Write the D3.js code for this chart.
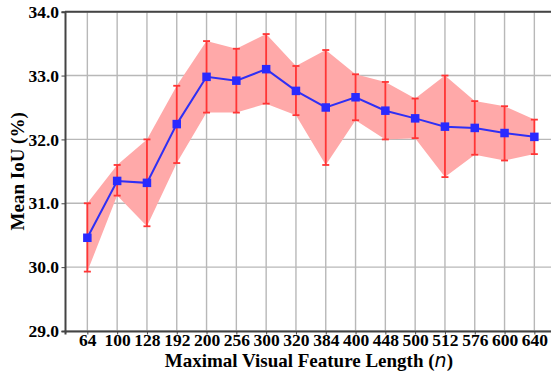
<!DOCTYPE html>
<html>
<head>
<meta charset="utf-8">
<script src="https://cdn.jsdelivr.net/npm/d3@7"></script>
<style>
  body { margin: 0; background: #fff; }
  svg { display: block; }
</style>
</head>
<body>
<div id="chart"></div>
<script>
// data
const lengths = ["64", "100", "128", "192", "200", "256", "300", "320", "384", "400", "448", "500", "512", "576", "600", "640"];
const meanIoU = [30.46, 31.35, 31.32, 32.24, 32.98, 32.92, 33.10, 32.76, 32.50, 32.66, 32.45, 32.33, 32.20, 32.18, 32.10, 32.04];
const upper   = [31.00, 31.60, 32.00, 32.84, 33.54, 33.42, 33.65, 33.15, 33.40, 33.02, 32.90, 32.64, 33.00, 32.60, 32.52, 32.31];
const lower   = [29.93, 31.12, 30.64, 31.63, 32.42, 32.42, 32.56, 32.38, 31.60, 32.30, 32.00, 32.02, 31.41, 31.76, 31.67, 31.77];
const yTicks  = [29, 30, 31, 32, 33, 34];

const serif = "Liberation Serif";

const width = 551, height = 372;
const margin = {top: 11.7, left: 65, bottom: 41};
const step = 29.8;

const svg = d3.select("#chart").append("svg")
    .attr("width", width)
    .attr("height", height);

const data = lengths.map((d, i) => ({len: d, i: i, v: meanIoU[i], hi: upper[i], lo: lower[i]}));

// linear position scale on index so that the frame can be padded like matplotlib
const x = d3.scaleLinear()
    .domain([-0.75, 15.75])
    .range([margin.left, margin.left + 16.5 * step]);

const y = d3.scaleLinear()
    .domain([29, 34])
    .range([height - margin.bottom, margin.top]);

const plotRight = x(15.75);

// grid
svg.append("g")
  .selectAll("line")
  .data(yTicks)
  .join("line")
    .attr("x1", margin.left).attr("x2", plotRight)
    .attr("y1", d => y(d)).attr("y2", d => y(d))
    .attr("stroke", "#b8b8b8").attr("stroke-width", 1.4);

svg.append("g")
  .selectAll("line")
  .data(data)
  .join("line")
    .attr("x1", d => x(d.i)).attr("x2", d => x(d.i))
    .attr("y1", y(29)).attr("y2", y(34))
    .attr("stroke", "#b8b8b8").attr("stroke-width", 1.4);

// shaded band
const band = d3.area()
    .x(d => x(d.i))
    .y0(d => y(d.lo))
    .y1(d => y(d.hi));

svg.append("path")
    .datum(data)
    .attr("d", band)
    .attr("fill", "#ffa9a9");

// error bars
const err = svg.append("g").attr("stroke", "#ff3535").attr("stroke-width", 1.8);
err.selectAll(".bar")
  .data(data)
  .join("line")
    .attr("x1", d => x(d.i)).attr("x2", d => x(d.i))
    .attr("y1", d => y(d.lo)).attr("y2", d => y(d.hi));
err.selectAll(".capTop")
  .data(data)
  .join("line")
    .attr("class", "capTop")
    .attr("x1", d => x(d.i) - 3.5).attr("x2", d => x(d.i) + 3.5)
    .attr("y1", d => y(d.hi)).attr("y2", d => y(d.hi));
err.selectAll(".capBot")
  .data(data)
  .join("line")
    .attr("class", "capBot")
    .attr("x1", d => x(d.i) - 3.5).attr("x2", d => x(d.i) + 3.5)
    .attr("y1", d => y(d.lo)).attr("y2", d => y(d.lo));

// mean line + markers
svg.append("path")
    .datum(data)
    .attr("d", d3.line().x(d => x(d.i)).y(d => y(d.v)))
    .attr("fill", "none")
    .attr("stroke", "#2f2ff5")
    .attr("stroke-width", 2);

const ms = 8.5;
svg.append("g")
  .selectAll("rect")
  .data(data)
  .join("rect")
    .attr("x", d => x(d.i) - ms / 2)
    .attr("y", d => y(d.v) - ms / 2)
    .attr("width", ms).attr("height", ms)
    .attr("fill", "#2a2aff");

// axes
const xAxis = d3.axisBottom(x)
    .tickValues(d3.range(lengths.length))
    .tickFormat(i => lengths[i])
    .tickSizeOuter(0)
    .tickSize(3.5);

const gx = svg.append("g")
    .attr("transform", `translate(0,${y(29)})`)
    .call(xAxis)
    .attr("font-family", serif)
    .attr("font-weight", "bold")
    .attr("font-size", 17.5);
gx.select(".domain").attr("stroke", "#444").attr("stroke-width", 2);
gx.selectAll(".tick line").attr("stroke", "#444");
gx.selectAll("text")
    .attr("fill", "#000")
    .attr("dy", "0.71em")
    .attr("y", 3);

const yAxis = d3.axisLeft(y)
    .tickValues(yTicks)
    .tickFormat(d3.format(".1f"))
    .tickSizeOuter(0)
    .tickSize(3.5);

const gy = svg.append("g")
    .attr("transform", `translate(${margin.left},0)`)
    .call(yAxis)
    .attr("font-family", serif)
    .attr("font-weight", "bold")
    .attr("font-size", 17.5);
gy.select(".domain").attr("stroke", "#444").attr("stroke-width", 2);
gy.selectAll(".tick line").attr("stroke", "#444");
gy.selectAll("text")
    .attr("fill", "#000")
    .attr("x", -6);

// top spine
svg.append("line")
    .attr("x1", margin.left).attr("x2", plotRight)
    .attr("y1", y(34)).attr("y2", y(34))
    .attr("stroke", "#444").attr("stroke-width", 2);

// axis titles
const xt = svg.append("text")
    .attr("x", (margin.left + plotRight) / 2 - 2)
    .attr("y", 367.3)
    .attr("text-anchor", "middle")
    .attr("font-family", serif)
    .attr("font-weight", "bold")
    .attr("font-size", 19);
xt.append("tspan").text("Maximal Visual Feature Length (");
xt.append("tspan").text("n")
    .attr("font-family", "DejaVu Sans")
    .attr("font-style", "italic")
    .attr("font-weight", "normal");
xt.append("tspan").text(")");

svg.append("text")
    .attr("transform", `translate(24,${(y(29) + y(34)) / 2}) rotate(-90)`)
    .attr("text-anchor", "middle")
    .attr("font-family", serif)
    .attr("font-weight", "bold")
    .attr("font-size", 19)
    .text("Mean IoU (%)");
</script>
</body>
</html>
